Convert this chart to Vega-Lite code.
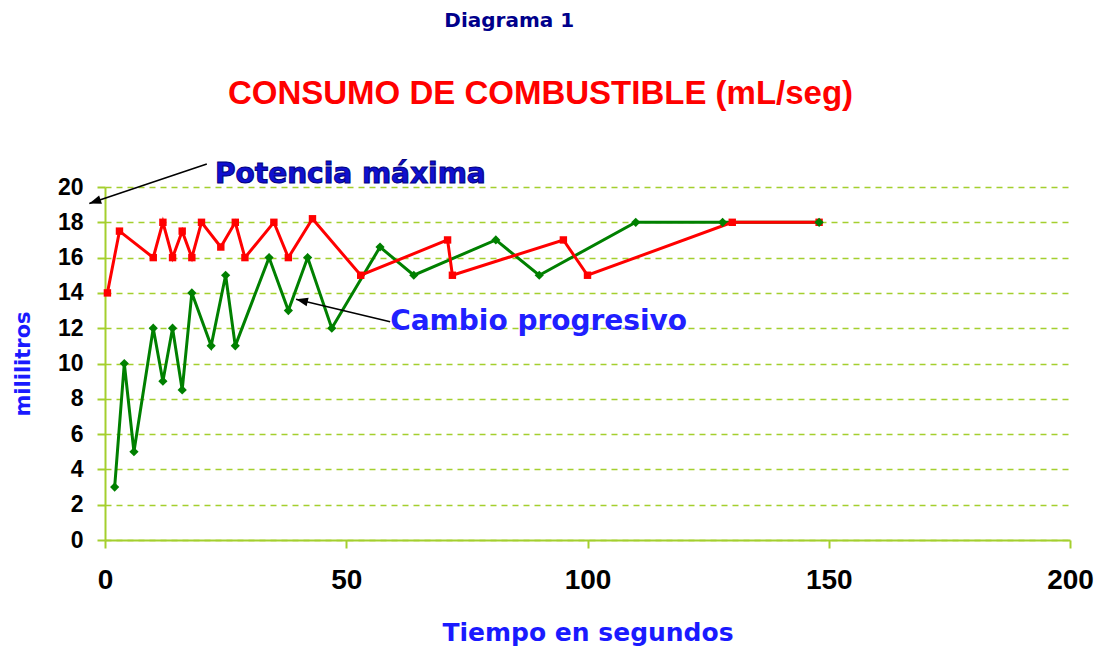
{
  "$schema": "https://vega.github.io/schema/vega-lite/v6.json",
  "width": 965,
  "height": 353,
  "autosize": "none",
  "padding": {"left": 105, "top": 187, "right": 33, "bottom": 110},
  "background": "white",
  "config": {"view": {"stroke": null}},
  "title": {
    "text": "Diagrama 1\u2800\u2800\u2800\u2800",
    "subtitle": "CONSUMO DE COMBUSTIBLE (mL/seg)",
    "font": "DejaVu Sans",
    "fontSize": 20,
    "fontWeight": "bold",
    "color": "#00008b",
    "subtitleFont": "Liberation Sans",
    "subtitleFontSize": 33,
    "subtitleFontWeight": "bold",
    "subtitleColor": "#ff0000",
    "subtitlePadding": 47,
    "anchor": "middle",
    "dx": -47,
    "offset": 50
  },
  "datasets": {
    "series": [
      {"serie": "Potencia máxima", "t": 0.5, "ml": 14},
      {"serie": "Potencia máxima", "t": 3, "ml": 17.5},
      {"serie": "Potencia máxima", "t": 10, "ml": 16},
      {"serie": "Potencia máxima", "t": 12, "ml": 18},
      {"serie": "Potencia máxima", "t": 14, "ml": 16},
      {"serie": "Potencia máxima", "t": 16, "ml": 17.5},
      {"serie": "Potencia máxima", "t": 18, "ml": 16},
      {"serie": "Potencia máxima", "t": 20, "ml": 18},
      {"serie": "Potencia máxima", "t": 24, "ml": 16.6},
      {"serie": "Potencia máxima", "t": 27, "ml": 18},
      {"serie": "Potencia máxima", "t": 29, "ml": 16},
      {"serie": "Potencia máxima", "t": 35, "ml": 18},
      {"serie": "Potencia máxima", "t": 38, "ml": 16},
      {"serie": "Potencia máxima", "t": 43, "ml": 18.2},
      {"serie": "Potencia máxima", "t": 53, "ml": 15},
      {"serie": "Potencia máxima", "t": 71, "ml": 17},
      {"serie": "Potencia máxima", "t": 72, "ml": 15},
      {"serie": "Potencia máxima", "t": 95, "ml": 17},
      {"serie": "Potencia máxima", "t": 100, "ml": 15},
      {"serie": "Potencia máxima", "t": 130, "ml": 18},
      {"serie": "Potencia máxima", "t": 148, "ml": 18},
      {"serie": "Cambio progresivo", "t": 2, "ml": 3},
      {"serie": "Cambio progresivo", "t": 4, "ml": 10},
      {"serie": "Cambio progresivo", "t": 6, "ml": 5},
      {"serie": "Cambio progresivo", "t": 10, "ml": 12},
      {"serie": "Cambio progresivo", "t": 12, "ml": 9},
      {"serie": "Cambio progresivo", "t": 14, "ml": 12},
      {"serie": "Cambio progresivo", "t": 16, "ml": 8.5},
      {"serie": "Cambio progresivo", "t": 18, "ml": 14},
      {"serie": "Cambio progresivo", "t": 22, "ml": 11},
      {"serie": "Cambio progresivo", "t": 25, "ml": 15},
      {"serie": "Cambio progresivo", "t": 27, "ml": 11},
      {"serie": "Cambio progresivo", "t": 34, "ml": 16},
      {"serie": "Cambio progresivo", "t": 38, "ml": 13},
      {"serie": "Cambio progresivo", "t": 42, "ml": 16},
      {"serie": "Cambio progresivo", "t": 47, "ml": 12},
      {"serie": "Cambio progresivo", "t": 57, "ml": 16.6},
      {"serie": "Cambio progresivo", "t": 64, "ml": 15},
      {"serie": "Cambio progresivo", "t": 81, "ml": 17},
      {"serie": "Cambio progresivo", "t": 90, "ml": 15},
      {"serie": "Cambio progresivo", "t": 110, "ml": 18},
      {"serie": "Cambio progresivo", "t": 128, "ml": 18},
      {"serie": "Cambio progresivo", "t": 148, "ml": 18}
    ],
    "arrows": [
      {"name": "Potencia máxima", "t": 21.1, "ml": 21.3, "t2": -3.25, "ml2": 19.06, "ang": 251},
      {"name": "Cambio progresivo", "t": 59.1, "ml": 12.37, "t2": 39.6, "ml2": 13.64, "ang": 283}
    ]
  },
  "layer": [
    {
      "data": {"name": "series"},
      "transform": [{"filter": "datum.serie === 'Cambio progresivo'"}],
      "mark": {"type": "line", "color": "#008000", "strokeWidth": 3},
      "encoding": {
        "x": {
          "field": "t", "type": "quantitative",
          "scale": {"domain": [0, 200], "nice": false, "zero": false},
          "axis": {
            "values": [0, 50, 100, 150, 200],
            "tickCount": 5,
            "grid": false,
            "domainColor": "#a4cf2e", "domainWidth": 2,
            "tickColor": "#a4cf2e", "tickWidth": 2, "tickSize": 8,
            "labelFont": "Liberation Sans", "labelFontWeight": "bold", "labelFontSize": 28,
            "labelColor": "#000000", "labelPadding": 18, "labelFlush": false, "labelOverlap": false,
            "title": "Tiempo en segundos",
            "titleFont": "DejaVu Sans", "titleFontSize": 25, "titleFontWeight": "bold",
            "titleColor": "#1a1aff", "titlePadding": 26
          }
        },
        "y": {
          "field": "ml", "type": "quantitative",
          "scale": {"domain": [0, 20], "nice": false},
          "axis": {
            "values": [0, 2, 4, 6, 8, 10, 12, 14, 16, 18, 20],
            "tickCount": 11,
            "grid": true, "gridDash": [6, 5], "gridColor": "#a4cf2e", "gridWidth": 1.5,
            "domainColor": "#a4cf2e", "domainWidth": 2,
            "tickColor": "#a4cf2e", "tickWidth": 2, "tickSize": 8,
            "labelFont": "Liberation Sans", "labelFontWeight": "bold", "labelFontSize": 23,
            "labelColor": "#000000", "labelPadding": 14, "labelOverlap": false,
            "title": "mililitros",
            "titleFont": "DejaVu Sans", "titleFontSize": 21, "titleFontWeight": "bold",
            "titleColor": "#1a1aff", "titlePadding": 24
          }
        }
      }
    },
    {
      "data": {"name": "series"},
      "transform": [{"filter": "datum.serie === 'Potencia máxima'"}],
      "mark": {"type": "line", "color": "#ff0000", "strokeWidth": 3},
      "encoding": {
        "x": {"field": "t", "type": "quantitative"},
        "y": {"field": "ml", "type": "quantitative"}
      }
    },
    {
      "data": {"name": "series"},
      "transform": [{"filter": "datum.serie === 'Potencia máxima'"}],
      "mark": {"type": "point", "shape": "square", "filled": true, "color": "#ff0000", "size": 55, "opacity": 1},
      "encoding": {
        "x": {"field": "t", "type": "quantitative"},
        "y": {"field": "ml", "type": "quantitative"}
      }
    },
    {
      "data": {"name": "series"},
      "transform": [{"filter": "datum.serie === 'Cambio progresivo'"}],
      "mark": {"type": "point", "shape": "diamond", "filled": true, "color": "#008000", "size": 85, "opacity": 1},
      "encoding": {
        "x": {"field": "t", "type": "quantitative"},
        "y": {"field": "ml", "type": "quantitative"}
      }
    },
    {
      "data": {"name": "arrows"},
      "mark": {"type": "rule", "color": "#000000", "strokeWidth": 1.6},
      "encoding": {
        "x": {"field": "t", "type": "quantitative"},
        "y": {"field": "ml", "type": "quantitative"},
        "x2": {"field": "t2"},
        "y2": {"field": "ml2"}
      }
    },
    {
      "data": {"name": "arrows"},
      "mark": {"type": "point", "shape": "M0,0L-0.55,1.5L0.55,1.5Z", "filled": true, "color": "#000000", "size": 250, "opacity": 1},
      "encoding": {
        "x": {"field": "t2", "type": "quantitative"},
        "y": {"field": "ml2", "type": "quantitative"},
        "angle": {"field": "ang", "type": "quantitative", "scale": null}
      }
    },
    {
      "data": {"values": [{"t": 22.8, "ml": 20.2, "txt": "Potencia máxima"}]},
      "mark": {"type": "text", "align": "left", "baseline": "alphabetic", "font": "DejaVu Sans", "fontSize": 28, "fontWeight": "bold", "fill": "#1010d0", "stroke": "#000080", "strokeWidth": 1},
      "encoding": {
        "x": {"field": "t", "type": "quantitative"},
        "y": {"field": "ml", "type": "quantitative"},
        "text": {"field": "txt"}
      }
    },
    {
      "data": {"values": [{"t": 59.1, "ml": 11.9, "txt": "Cambio progresivo"}]},
      "mark": {"type": "text", "align": "left", "baseline": "alphabetic", "font": "DejaVu Sans", "fontSize": 28, "fontWeight": "bold", "fill": "#2020ff"},
      "encoding": {
        "x": {"field": "t", "type": "quantitative"},
        "y": {"field": "ml", "type": "quantitative"},
        "text": {"field": "txt"}
      }
    }
  ]
}
